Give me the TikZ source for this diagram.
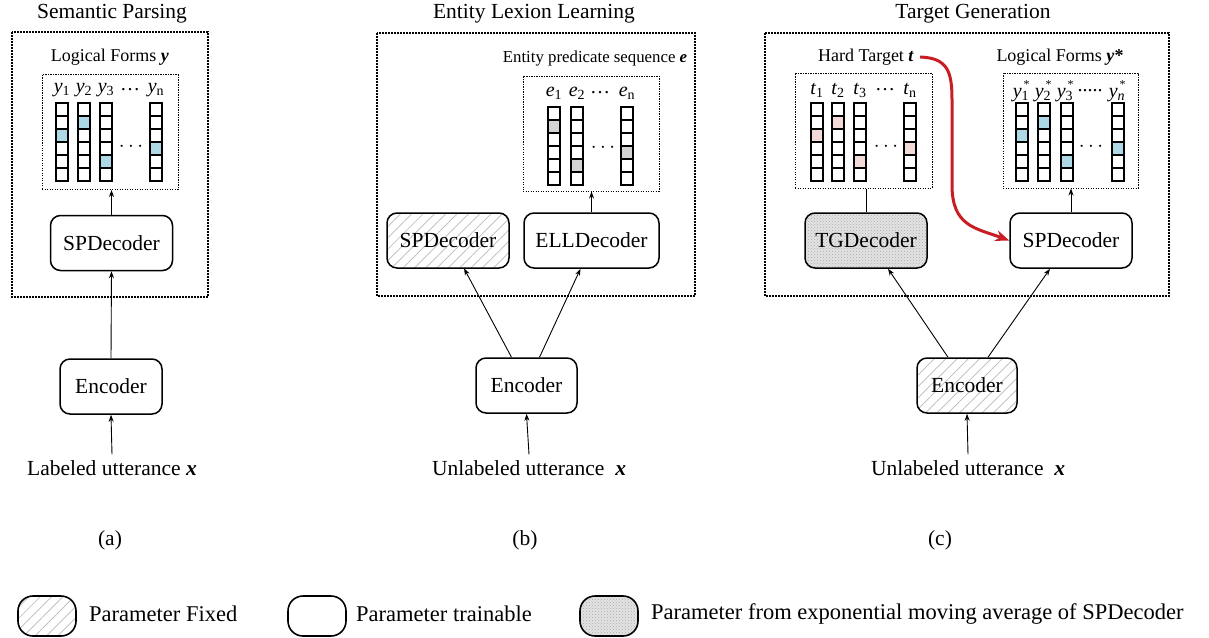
\documentclass[tikz,border=0pt]{standalone}
\usepackage{fontspec}
\setmainfont{Liberation Serif}
\usetikzlibrary{arrows.meta,patterns,patterns.meta,positioning}
\definecolor{cellblue}{RGB}{173,216,230}
\definecolor{cellpink}{RGB}{242,218,216}
\definecolor{cellgray}{RGB}{212,212,212}
\definecolor{emared}{RGB}{200,30,35}

% one output vector: left x, top y, highlighted cell, colour
\newcommand{\vecol}[4]{%
  \fill[#4] (#1,#2+13*#3) rectangle ++(12,13);
  \foreach \k in {0,...,5}
    \draw[cellbox] (#1,#2+13*\k) rectangle ++(12,13);
}
% starred index label
\newcommand{\ystar}[1]{\textit{y}\rlap{\raisebox{9pt}{\fontsize{12}{12}\selectfont\,*}}\textsubscript{#1}}

\begin{document}
\begin{tikzpicture}[
  x=1pt, y=-1pt,
  every node/.style={inner sep=0pt},
  bigtxt/.style={font=\fontsize{21.5}{24}\selectfont},
  midtxt/.style={font=\fontsize{18}{20}\selectfont},
  idxtxt/.style={font=\fontsize{20}{22}\selectfont},
  frame/.style={draw, line width=1.3pt, dash pattern=on 1.6pt off 1.4pt},
  inframe/.style={draw, line width=1pt, dash pattern=on 1.2pt off 1.3pt,
    minimum width=136pt, minimum height=115pt},
  module/.style={draw, line width=1.5pt, rounded corners=10pt,
    minimum width=122pt, minimum height=55pt, bigtxt},
  fixed/.style={module, pattern={Lines[angle=45,distance=8pt,line width=0.7pt]},
    pattern color=gray!55},
  ema/.style={module, preaction={fill=gray!22}, pattern=crosshatch dots,
    pattern color=gray!65},
  legbox/.style={minimum width=58pt, minimum height=40pt, rounded corners=15pt,
    line width=1.6pt},
  inlbl/.style={bigtxt, outer sep=6pt},
  cellbox/.style={draw, line width=1.2pt},
  arr/.style={-{Stealth[length=7pt,width=5pt]}, line width=0.9pt},
  emaarrow/.style={-{Stealth[length=14pt,width=11pt]}, line width=3pt, emared},
]
\useasboundingbox (0,0) rectangle (1209,637);

%% ---------------- (a) Semantic Parsing ----------------
\node[bigtxt] (titA) at (112,14) {Semantic Parsing};
\draw[frame] (12,32) rectangle (208,297);
\node[midtxt] (lfAlbl) at (110,57) {Logical Forms \textbf{\textit{y}}};
\node[inframe] (lfA) at (110,132) {};
\foreach \cx/\hc in {56/2,78/1,100/4,150/3}
  \vecol{\cx}{103}{\hc}{cellblue};
\foreach \lx/\lt [count=\i] in {62/\textit{y}\textsubscript{1},84/\textit{y}\textsubscript{2},
    106/\textit{y}\textsubscript{3},130/\dots,156/\textit{y}\textsubscript{n}}
  \node[idxtxt] (ylA\i) at (\lx,90) {\lt};
\node[idxtxt] (dotA) at (131,147) {$\cdots$};

\node[module] (spA) at (111.5,243) {SPDecoder};
\node[module, minimum width=102pt] (encA) at (111,386.5) {Encoder};
\node[inlbl] (inA) at (112,468) {Labeled utterance \textbf{\textit{x}}};
\node[bigtxt] (capA) at (110,540) {(a)};

\draw[arr] (spA.north) -- (spA.north |- lfA.south);
\draw[arr] (encA.north) -- (spA.south);
\draw[arr] (inA.north) -- (encA.south);

%% ---------------- (b) Entity Lexion Learning ----------------
\node[bigtxt] (titB) at (534,14) {Entity Lexion Learning};
\draw[frame] (377,33) rectangle (695,296);
\node[font=\fontsize{16.8}{19}\selectfont] (epBlbl) at (595,58)
  {Entity predicate sequence \textbf{\textit{e}}};
\node[inframe] (epB) at (591,133.5) {};
\foreach \cx/\hc in {548/1,571/4,621/3}
  \vecol{\cx}{107}{\hc}{cellgray};
\foreach \lx/\lt [count=\i] in {554/\textit{e}\textsubscript{1},577/\textit{e}\textsubscript{2},
    600/\dots,627/\textit{e}\textsubscript{n}}
  \node[idxtxt] (elB\i) at (\lx,93) {\lt};
\node[idxtxt] (dotB) at (603,148) {$\cdots$};

\node[fixed] (spB) at (448,240.5) {SPDecoder};
\node[module, minimum width=135pt] (ellB) at (591.5,240.5) {ELLDecoder};
\node[module, minimum width=101pt] (encB) at (526.5,385.5) {Encoder};
\node[inlbl] (inB) at (529,468) {Unlabeled utterance \ \textbf{\textit{x}}};
\node[bigtxt] (capB) at (525,540) {(b)};

\draw[arr] (ellB.north) -- (ellB.north |- epB.south);
\draw[arr] ([xshift=-15pt]encB.north) -- ([xshift=16pt]spB.south);
\draw[arr] ([xshift=13pt]encB.north) -- ([xshift=-11pt]ellB.south);
\draw[arr] (inB.north) -- (encB.south);

%% ---------------- (c) Target Generation ----------------
\node[bigtxt] (titC) at (973,14) {Target Generation};
\draw[frame] (765,33) rectangle (1169,296);

% hard target
\node[midtxt] (htClbl) at (866,57) {Hard Target \textbf{\textit{t}}};
\node[inframe, minimum width=137pt] (htC) at (863.5,130.5) {};
\foreach \cx/\hc in {811/2,832/1,854/4,904/3}
  \vecol{\cx}{103}{\hc}{cellpink};
\foreach \lx/\lt [count=\i] in {817/\textit{t}\textsubscript{1},838/\textit{t}\textsubscript{2},
    860/\textit{t}\textsubscript{3},885/\dots,910/\textit{t}\textsubscript{n}}
  \node[idxtxt] (tlC\i) at (\lx,90) {\lt};
\node[idxtxt] (dotC) at (886,147) {$\cdots$};

% logical forms y*
\node[midtxt] (lfClbl) at (1060,57) {Logical Forms \textbf{\textit{y}*}};
\node[inframe, minimum width=135pt] (lfC) at (1070.5,130.5) {};
\foreach \cx/\hc in {1016/2,1038/1,1061/4,1112/3}
  \vecol{\cx}{103}{\hc}{cellblue};
\foreach \lx/\lt [count=\i] in {1021/\ystar{1},1043/\ystar{2},1065/\ystar{3},
    1090/{.....},1117/\ystar{\textit{n}}}
  \node[idxtxt] (ylC\i) at (\lx,91) {\lt};
\node[idxtxt] (dotC2) at (1091,147) {$\cdots$};

\node[ema] (tgC) at (866,240.5) {TGDecoder};
\node[module] (spC) at (1071,240.5) {SPDecoder};
\node[fixed, minimum width=100pt] (encC) at (967,385.5) {Encoder};
\node[inlbl] (inC) at (968,468) {Unlabeled utterance \ \textbf{\textit{x}}};
\node[bigtxt] (capC) at (940,540) {(c)};

\draw[line width=0.9pt] (tgC.north) -- (tgC.north |- htC.south);
\draw[arr] (spC.north) -- (spC.north |- lfC.south);
\draw[arr] ([xshift=-19pt]encC.north) -- ([xshift=22pt]tgC.south);
\draw[arr] ([xshift=21pt]encC.north) -- ([xshift=-21pt]spC.south);
\draw[arr] (inC.north) -- (encC.south);

% hard target handed to SPDecoder
\draw[emaarrow] ([xshift=6pt]htClbl.east) .. controls (948,58) and (952,72) .. (952,100)
  -- (952,185) .. controls (952,226) and (975,228) .. (spC.west);

%% ---------------- legend ----------------
\node[fixed, legbox] (legFix) at (47,616) {};
\node[font=\fontsize{22.5}{25}\selectfont, anchor=west] (legFixTxt) at (89,614) {Parameter Fixed};
\node[module, legbox] (legTrain) at (317,616) {};
\node[font=\fontsize{22.5}{25}\selectfont, anchor=west] (legTrainTxt) at (356,614) {Parameter trainable};
\node[ema, legbox] (legEma) at (609,616) {};
\node[font=\fontsize{22.5}{25}\selectfont, anchor=west] (legEmaTxt) at (651,614)
  {Parameter from exponential moving average of SPDecoder};

\end{tikzpicture}
\end{document}
